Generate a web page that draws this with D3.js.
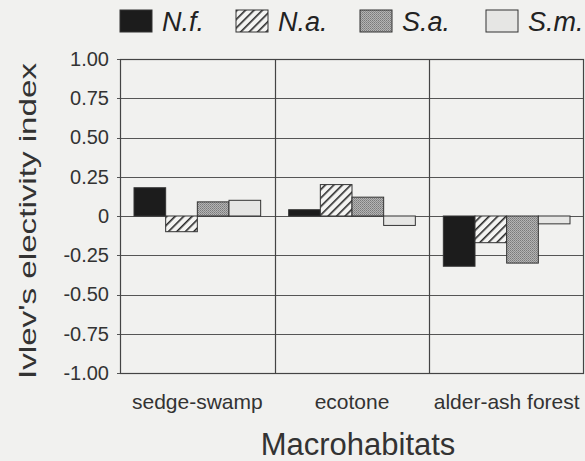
<!DOCTYPE html>
<html>
<head>
<meta charset="utf-8">
<script src="https://cdn.jsdelivr.net/npm/d3@7"></script>
<style>
  body { margin: 0; background: #f1f1ef; }
  svg { display: block; font-family: "Liberation Sans", Arial, sans-serif; }
</style>
</head>
<body>
<div id="chart"></div>
<script>
// Data
const habitats = ["sedge-swamp", "ecotone", "alder-ash forest"];
const species = ["N.f.", "N.a.", "S.a.", "S.m."];
const nf = [0.18, 0.04, -0.32];
const na = [-0.10, 0.20, -0.17];
const sa = [0.09, 0.12, -0.30];
const sm = [0.10, -0.06, -0.05];
const yTicks = [1, 0.75, 0.5, 0.25, 0, -0.25, -0.5, -0.75, -1];

const seriesValues = [nf, na, sa, sm];

const w = 585, h = 461;
const mg = { left: 120, right: 1, top: 59, bottom: 88 };

const svg = d3.select("#chart")
  .append("svg")
  .attr("width", w)
  .attr("height", h);

// patterns for the bar fills
const defs = svg.append("defs");

const hatch = defs.append("pattern")
  .attr("id", "hatch")
  .attr("patternUnits", "userSpaceOnUse")
  .attr("width", 6).attr("height", 6)
  .attr("patternTransform", "rotate(45)");
hatch.append("rect").attr("width", 6).attr("height", 6).attr("fill", "#f4f4f2");
hatch.append("rect").attr("x", 0).attr("width", 1.6).attr("height", 6).attr("fill", "#2a2a2a");

const stip = defs.append("pattern")
  .attr("id", "stipple")
  .attr("patternUnits", "userSpaceOnUse")
  .attr("width", 2).attr("height", 2);
stip.append("rect").attr("width", 2).attr("height", 2).attr("fill", "#b4b4b4");
stip.append("rect").attr("width", 1).attr("height", 1).attr("fill", "#7a7a7a");
stip.append("rect").attr("x", 1).attr("y", 1).attr("width", 1).attr("height", 1).attr("fill", "#8c8c8c");

const fills = ["#1c1c1c", "url(#hatch)", "url(#stipple)", "#e6e6e4"];

// scales
const x = d3.scaleBand()
  .domain(habitats)
  .range([mg.left, w - mg.right])
  .padding(0);

const xs = d3.scaleBand()
  .domain(species)
  .range([14, x.bandwidth() - 14])
  .padding(0);

const y = d3.scaleLinear()
  .domain([-1, 1])
  .range([373, mg.top]);

// horizontal gridlines
svg.append("g")
  .attr("class", "grid")
  .selectAll("line")
  .data(yTicks)
  .enter().append("line")
  .attr("x1", mg.left - 3)
  .attr("x2", w - mg.right)
  .attr("y1", d => Math.round(y(d)) + 0.5)
  .attr("y2", d => Math.round(y(d)) + 0.5)
  .style("stroke", "#555")
  .style("stroke-width", 1.2);

// vertical dividers between habitats
svg.append("g")
  .selectAll("line")
  .data(habitats.slice(1))
  .enter().append("line")
  .attr("x1", d => Math.round(x(d)) + 0.5)
  .attr("x2", d => Math.round(x(d)) + 0.5)
  .attr("y1", y(1))
  .attr("y2", y(-1))
  .style("stroke", "#444")
  .style("stroke-width", 1.2);

// bars
const rows = [];
habitats.forEach((hab, i) => {
  species.forEach((sp, j) => {
    rows.push({ hab: hab, sp: sp, j: j, v: seriesValues[j][i] });
  });
});

svg.append("g")
  .attr("class", "bars")
  .selectAll("rect")
  .data(rows)
  .enter().append("rect")
  .attr("x", d => x(d.hab) + xs(d.sp))
  .attr("y", d => y(Math.max(0, d.v)))
  .attr("width", xs.bandwidth())
  .attr("height", d => Math.abs(y(d.v) - y(0)))
  .style("fill", d => fills[d.j])
  .style("stroke", "#333")
  .style("stroke-width", 1);

// frame
svg.append("rect")
  .attr("x", mg.left + 0.5)
  .attr("y", y(1) + 0.5)
  .attr("width", w - mg.right - mg.left - 1)
  .attr("height", y(-1) - y(1))
  .style("fill", "none")
  .style("stroke", "#444")
  .style("stroke-width", 1.2);

// y axis labels (plain hyphen for the minus, like the original)
const yAxis = d3.axisLeft(y)
  .tickValues(yTicks)
  .tickSize(0)
  .tickPadding(11)
  .tickFormat(d => d === 0 ? "0" : d3.format(".2f")(d).replace("\u2212", "-"));

svg.append("g")
  .attr("transform", `translate(${mg.left}, 0)`)
  .call(yAxis)
  .call(g => g.select(".domain").remove())
  .selectAll("text")
  .style("font-size", "20px")
  .style("fill", "#333")
  .style("font-family", "Liberation Sans, Arial, sans-serif");

// x category labels
svg.append("g")
  .selectAll("text")
  .data(habitats)
  .enter().append("text")
  .attr("x", d => x(d) + x.bandwidth() / 2)
  .attr("y", 409)
  .attr("text-anchor", "middle")
  .style("font-size", "21px")
  .style("fill", "#333")
  .text(d => d);

// axis titles
svg.append("text")
  .attr("x", 358)
  .attr("y", 455)
  .attr("text-anchor", "middle")
  .style("font-size", "31px")
  .style("fill", "#333")
  .text("Macrohabitats");

svg.append("text")
  .attr("transform", "translate(36, 221) rotate(-90)")
  .attr("text-anchor", "middle")
  .attr("textLength", 316)
  .attr("lengthAdjust", "spacingAndGlyphs")
  .style("font-size", "24px")
  .style("fill", "#333")
  .text("Ivlev's electivity index");

// legend
const legendX = [120, 236, 360, 486];
const legend = svg.append("g").attr("class", "legend");

const item = legend.selectAll("g")
  .data(species)
  .enter().append("g")
  .attr("transform", (d, i) => `translate(${legendX[i]}, 10)`);

item.append("rect")
  .attr("width", 32)
  .attr("height", 22)
  .style("fill", (d, i) => fills[i])
  .style("stroke", "#333")
  .style("stroke-width", 1);

item.append("text")
  .attr("x", 42)
  .attr("y", 21)
  .style("font-size", "27px")
  .style("font-style", "italic")
  .style("fill", "#222")
  .text(d => d);
</script>
</body>
</html>
